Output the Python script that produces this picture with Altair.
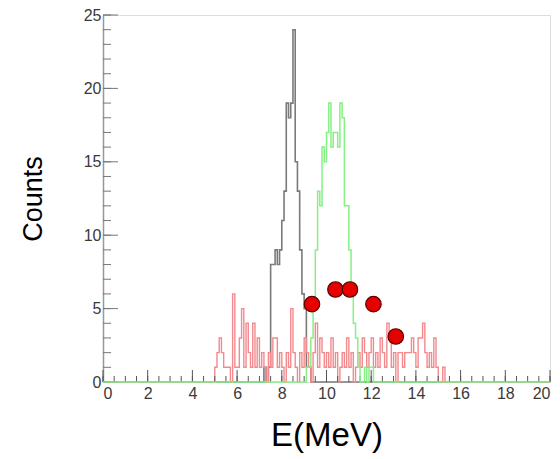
import altair as alt
import pandas as pd

BIN = 0.1
X_MIN, X_MAX = 0.0, 20.0

GRAY_START = 7.0
GRAY = [0, 0, 1, 0, 1, 8, 8, 9, 8, 9, 11, 13, 19, 18, 19, 24, 15, 13, 9, 6, 5, 1, 1, 0]

RED_START = 5.0
RED = [1, 2, 3, 2, 1, 1, 1, 0, 6, 1, 1, 3, 5, 1, 4, 2, 1, 4, 1, 3,
       1, 2, 1, 0, 2, 1, 3, 3, 1, 2, 1, 0, 2, 1, 5, 2, 1, 0, 2, 1,
       3, 2, 1, 0, 2, 4, 1, 3, 2, 1, 2, 1, 3, 1, 2, 0, 1, 2, 1, 3,
       1, 2, 0, 1, 2, 1, 3, 2, 1, 2, 3, 1, 2, 1, 3, 2, 1, 4, 3, 1,
       2, 0, 2, 2, 1, 2, 2, 2, 3, 2, 1, 3, 3, 4, 2, 1, 2, 1, 3, 1,
       0, 0, 1, 0, 0]

GREEN_START = 9.1
GREEN = [1, 1, 3, 5, 9, 13, 12, 16, 15, 17, 19, 16, 17, 17, 16, 19, 18, 12, 12, 9,
         6, 4, 3, 1, 0, 0, 1, 0, 1, 1, 0]

DOT_X = [9.35, 10.4, 11.05, 12.1, 13.1]
DOT_Y = [5.3, 6.3, 6.3, 5.3, 3.1]

X_MAJOR = [0, 2, 4, 6, 8, 10, 12, 14, 16, 18, 20]
X_MINOR = [i * 0.5 for i in range(41)]
Y_MAJOR = [0, 5, 10, 15, 20, 25]
Y_MINOR = list(range(26))

W, H = 447, 367


def step_rows(name, start, vals):
    rows = [{"s": name, "x": X_MIN, "y": 0}]
    for i, v in enumerate(vals):
        rows.append({"s": name, "x": round(start + i * BIN, 4), "y": v})
    rows.append({"s": name, "x": round(start + len(vals) * BIN, 4), "y": 0})
    rows.append({"s": name, "x": X_MAX, "y": 0})
    return rows


xs = alt.Scale(domain=[X_MIN, X_MAX], nice=False, zero=False)
ys = alt.Scale(domain=[0, 25], nice=False)

xaxis = alt.Axis(values=X_MAJOR, ticks=False, domain=False, grid=False,
                 labelFontSize=16, labelColor="#3a3a3a", labelPadding=3,
                 title="E(MeV)", titleFontSize=33, titleFontWeight="normal",
                 titleColor="#000", titlePadding=18)
yaxis = alt.Axis(values=Y_MAJOR, ticks=False, domain=True, domainColor="#999",
                 domainWidth=1.5, grid=False,
                 labelFontSize=16, labelColor="#3a3a3a", labelPadding=2,
                 title="Counts", titleFontSize=27, titleFontWeight="normal",
                 titleColor="#000", titlePadding=36)


def hist(name, start, vals, color, sw):
    df = pd.DataFrame(step_rows(name, start, vals))
    return alt.Chart(df).mark_line(interpolate="step-after", color=color,
                                   strokeWidth=sw).encode(
        x=alt.X("x:Q", scale=xs, axis=xaxis),
        y=alt.Y("y:Q", scale=ys, axis=yaxis),
    )


gray = hist("gray", GRAY_START, GRAY, "#7a7a7a", 1.6)
red = hist("red", RED_START, RED, "#f28a8e", 1.4)
green = hist("green", GREEN_START, GREEN, "#86f086", 1.5)

xt_major = alt.Chart(pd.DataFrame({"x": X_MAJOR})).mark_rule(color="#555", strokeWidth=1).encode(
    x=alt.X("x:Q", scale=xs), y=alt.value(H), y2=alt.value(H - 12))
xt_minor = alt.Chart(pd.DataFrame({"x": X_MINOR})).mark_rule(color="#555", strokeWidth=1).encode(
    x=alt.X("x:Q", scale=xs), y=alt.value(H), y2=alt.value(H - 6))
yt_major = alt.Chart(pd.DataFrame({"y": Y_MAJOR})).mark_rule(color="#777", strokeWidth=1).encode(
    y=alt.Y("y:Q", scale=ys), x=alt.value(0), x2=alt.value(15))
yt_minor = alt.Chart(pd.DataFrame({"y": Y_MINOR})).mark_rule(color="#777", strokeWidth=1).encode(
    y=alt.Y("y:Q", scale=ys), x=alt.value(0), x2=alt.value(8))

dots = alt.Chart(pd.DataFrame({"x": DOT_X, "y": DOT_Y})).mark_point(
    filled=True, fill="#e60000", stroke="#5a0000", strokeWidth=1.2, size=240, opacity=1
).encode(x=alt.X("x:Q", scale=xs), y=alt.Y("y:Q", scale=ys))

chart = alt.layer(gray, red, xt_major, xt_minor, yt_major, yt_minor, green, dots).properties(
    width=W, height=H,
    autosize=alt.AutoSizeParams(type="none"),
    padding={"left": 103, "top": 15, "right": 10, "bottom": 77},
).configure_view(stroke="#999", strokeWidth=1.5).configure(
    font="Liberation Sans", background="white")

chart.save("out.html", embed_options={"renderer": "svg", "actions": False})
